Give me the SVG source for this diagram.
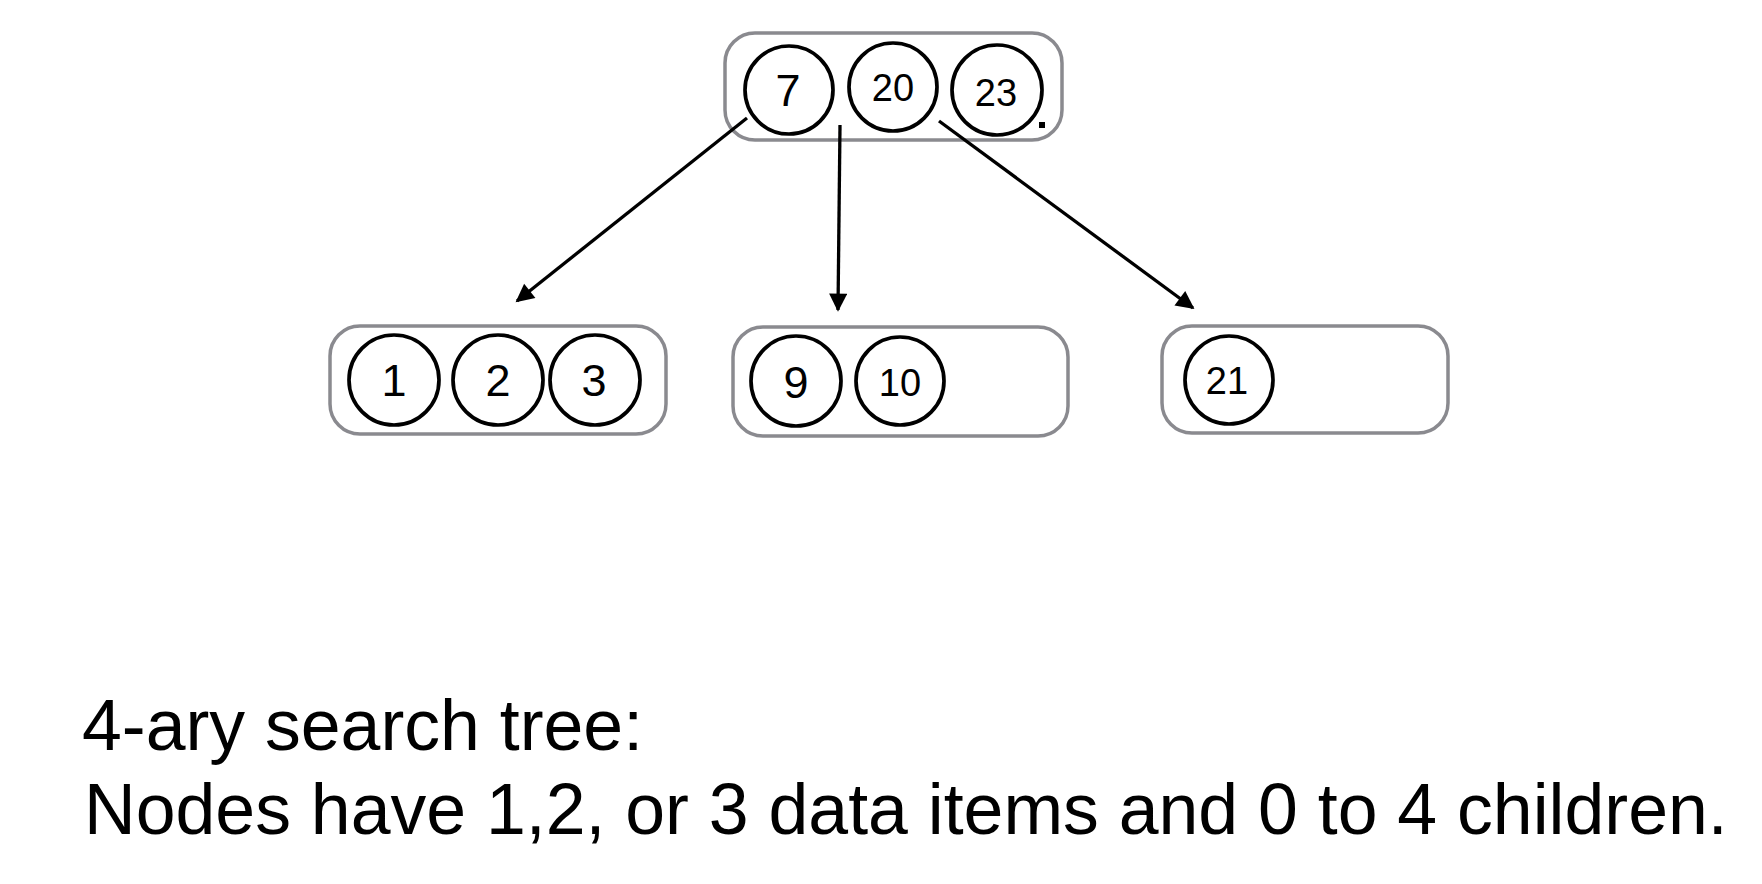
<svg xmlns="http://www.w3.org/2000/svg" width="1762" height="884" viewBox="0 0 1762 884">
<style>
.box{fill:none;stroke:#8a8a8f;stroke-width:3.5}
.c{fill:#fff;stroke:#000;stroke-width:3.7}
.t{font-family:"Liberation Sans",Arial,sans-serif;fill:#000;text-anchor:middle}
.big{font-size:45px}
.sm{font-size:38px}
.edge{stroke:#000;stroke-width:3.3;fill:none;marker-end:url(#ah)}
.cap{font-family:"Liberation Sans",Arial,sans-serif;font-size:71.6px;fill:#000}
</style>
<defs>
<marker id="ah" viewBox="0 0 10 10" refX="9" refY="5" markerWidth="6" markerHeight="5.5" markerUnits="strokeWidth" orient="auto">
<path d="M0,0 L10,5 L0,10 z" fill="#000"/>
</marker>
</defs>
<rect width="1762" height="884" fill="#fff"/>
<g id="root">
<rect class="box" x="725" y="33" width="337" height="107" rx="30"/>
<circle class="c" cx="789" cy="90" r="44"/>
<text class="t big" x="788" y="106">7</text>
<circle class="c" cx="893" cy="87" r="44"/>
<text class="t sm" x="893" y="101">20</text>
<circle class="c" cx="997" cy="90" r="45"/>
<text class="t sm" x="996" y="106">23</text>
<rect x="1039" y="122" width="6" height="6" fill="#000"/>
</g>
<g id="leaf1">
<rect class="box" x="330" y="326" width="336" height="108" rx="30"/>
<circle class="c" cx="394" cy="380" r="45"/>
<text class="t big" x="394" y="396">1</text>
<circle class="c" cx="498" cy="380" r="45"/>
<text class="t big" x="498" y="396">2</text>
<circle class="c" cx="595" cy="380" r="45"/>
<text class="t big" x="594" y="396">3</text>
</g>
<g id="leaf2">
<rect class="box" x="733" y="327" width="335" height="109" rx="30"/>
<circle class="c" cx="796" cy="381" r="45"/>
<text class="t big" x="796" y="398">9</text>
<circle class="c" cx="900" cy="381" r="44"/>
<text class="t sm" x="900" y="396">10</text>
</g>
<g id="leaf3">
<rect class="box" x="1162" y="326" width="286" height="107" rx="30"/>
<circle class="c" cx="1229" cy="380" r="44"/>
<text class="t sm" x="1227" y="394">21</text>
</g>
<g id="connectors">
<line class="edge" x1="747" y1="118" x2="517" y2="301"/>
<line class="edge" x1="840" y1="125" x2="838" y2="310"/>
<line class="edge" x1="939" y1="121" x2="1193" y2="308"/>
</g>
<g id="caption">
<text class="cap" x="82" y="750">4-ary search tree:</text>
<text class="cap" x="84" y="834">Nodes have 1,2, or 3 data items and 0 to 4 children.</text>
</g>
</svg>
